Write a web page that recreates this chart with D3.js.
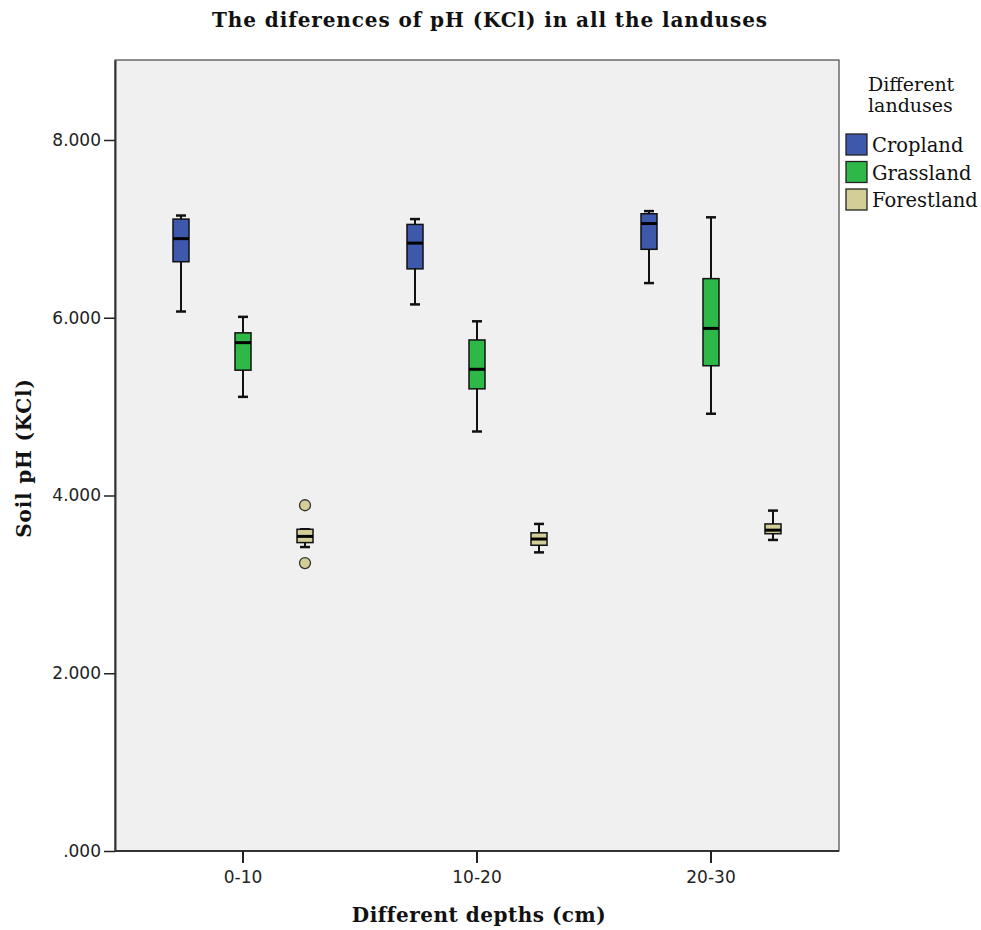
<!DOCTYPE html>
<html><head><meta charset="utf-8">
<script src="https://cdn.jsdelivr.net/npm/d3@7"></script>
<style>body{margin:0;background:#fff;}</style>
</head><body>
<svg id="c" width="981" height="930"></svg>
<script>
const depths = ["0-10", "10-20", "20-30"];
const landuses = ["Cropland", "Grassland", "Forestland"];
const colors = ["#3E58AC", "#2EB848", "#D3CE97"];
const yTicks = [0, 2, 4, 6, 8];
const yTickLabels = [".000", "2.000", "4.000", "6.000", "8.000"];
// [whiskerLow, q1, median, q3, whiskerHigh]
const cropland = [[6.07, 6.63, 6.89, 7.11, 7.15], [6.15, 6.55, 6.84, 7.05, 7.11], [6.39, 6.77, 7.06, 7.17, 7.20]];
const grassland = [[5.11, 5.41, 5.72, 5.83, 6.01], [4.72, 5.20, 5.42, 5.75, 5.96], [4.92, 5.46, 5.88, 6.44, 7.13]];
const forestland = [[3.42, 3.47, 3.54, 3.62, 3.62], [3.36, 3.44, 3.51, 3.58, 3.68], [3.50, 3.57, 3.61, 3.68, 3.83]];
const outliers = [{depth: "0-10", landuse: "Forestland", value: 3.89}, {depth: "0-10", landuse: "Forestland", value: 3.24}];

const series = [cropland, grassland, forestland];
const svg = d3.select("#c");
const L = 115, R = 839, T = 60, B = 851;
const x = d3.scaleBand().domain(depths).range([126, 828]);
const xs = d3.scaleBand().domain(landuses).range([-93, 93]);
const y = d3.scaleLinear().domain([0, 8.9]).range([B, T]);
const serif = "'DejaVu Serif', serif";
const sans = "'DejaVu Sans', sans-serif";

svg.append("rect").attr("x", L).attr("y", T).attr("width", R - L).attr("height", B - T)
  .attr("fill", "#f0f0f0").attr("stroke", "#222").attr("stroke-width", 1);

// y axis
const ya = svg.append("g").attr("transform", `translate(${L},0)`)
  .call(d3.axisLeft(y).tickValues(yTicks).tickFormat((d, i) => yTickLabels[i]).tickSize(11).tickSizeOuter(0));
ya.select(".domain").attr("stroke", "#333").attr("stroke-width", 2);
ya.selectAll(".tick line").attr("stroke", "#222").attr("stroke-width", 1.5);
ya.selectAll(".tick text").attr("font-family", sans).attr("font-size", 17).attr("fill", "#222");

// x axis
const xa = svg.append("g").attr("transform", `translate(0,${B})`)
  .call(d3.axisBottom(x).tickSize(12).tickSizeOuter(0));
xa.select(".domain").attr("stroke", "#333").attr("stroke-width", 2).attr("d", `M${L},0H${R}`);
xa.selectAll(".tick line").attr("stroke", "#222").attr("stroke-width", 2);
xa.selectAll(".tick text").attr("font-family", sans).attr("font-size", 17).attr("fill", "#222").attr("dy", "1em");

const bw = 16;
series.forEach((s, li) => {
  s.forEach((v, di) => {
    const cx = x(depths[di]) + x.bandwidth() / 2 + xs(landuses[li]) + xs.bandwidth() / 2;
    const g = svg.append("g");
    g.append("line").attr("x1", cx).attr("x2", cx).attr("y1", y(v[0])).attr("y2", y(v[4]))
      .attr("stroke", "#111").attr("stroke-width", 2);
    [v[0], v[4]].forEach(w => g.append("line").attr("x1", cx - 5).attr("x2", cx + 5)
      .attr("y1", y(w)).attr("y2", y(w)).attr("stroke", "#111").attr("stroke-width", 2.5));
    g.append("rect").attr("x", cx - bw / 2).attr("y", y(v[3])).attr("width", bw)
      .attr("height", Math.max(1, y(v[1]) - y(v[3]))).attr("fill", colors[li])
      .attr("stroke", "#111").attr("stroke-width", 1.5);
    g.append("line").attr("x1", cx - bw / 2).attr("x2", cx + bw / 2).attr("y1", y(v[2])).attr("y2", y(v[2]))
      .attr("stroke", "#000").attr("stroke-width", 3);
  });
});

outliers.forEach(o => {
  const li = landuses.indexOf(o.landuse);
  const cx = x(o.depth) + x.bandwidth() / 2 + xs(o.landuse) + xs.bandwidth() / 2;
  svg.append("circle").attr("cx", cx).attr("cy", y(o.value)).attr("r", 5.5)
    .attr("fill", colors[li]).attr("stroke", "#333").attr("stroke-width", 1.3);
});

// titles
svg.append("text").attr("x", 490).attr("y", 27).attr("text-anchor", "middle")
  .attr("font-family", serif).attr("font-weight", "bold").attr("font-size", 20).attr("letter-spacing", 0.9).attr("fill", "#111")
  .text("The diferences of pH (KCl) in all the landuses");
svg.append("text").attr("x", 479).attr("y", 922).attr("text-anchor", "middle")
  .attr("font-family", serif).attr("font-weight", "bold").attr("font-size", 20).attr("letter-spacing", 0.5).attr("fill", "#111")
  .text("Different depths (cm)");
svg.append("text").attr("transform", "translate(31,458) rotate(-90)").attr("text-anchor", "middle")
  .attr("font-family", serif).attr("font-weight", "bold").attr("font-size", 20).attr("letter-spacing", 0.8).attr("fill", "#111")
  .text("Soil pH (KCl)");

// legend
const lg = svg.append("g");
lg.append("text").attr("x", 868).attr("y", 91).attr("font-family", serif).attr("font-size", 19).attr("fill", "#111").text("Different");
lg.append("text").attr("x", 868).attr("y", 112).attr("font-family", serif).attr("font-size", 19).attr("fill", "#111").text("landuses");
landuses.forEach((l, i) => {
  lg.append("rect").attr("x", 846).attr("y", 134 + i * 27.5).attr("width", 21).attr("height", 21)
    .attr("fill", colors[i]).attr("stroke", "#222").attr("stroke-width", 1.3);
  lg.append("text").attr("x", 872).attr("y", 152 + i * 27.5).attr("font-family", serif).attr("font-size", 19.5)
    .attr("fill", "#111").text(l);
});
</script>
</body></html>
